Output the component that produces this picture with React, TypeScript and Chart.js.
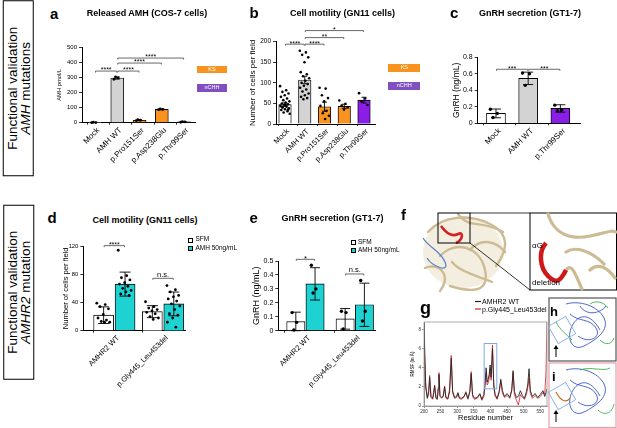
import React, { useEffect, useRef } from "react";
import { Chart, registerables } from "chart.js";

Chart.register(...registerables);

const FONT = "'Liberation Sans', Arial, Helvetica, sans-serif";

// ---------------- DATA ----------------
// Panel a: Released AMH (COS-7 cells)
const aLabels = ["Mock", "AMH WT", "p.Pro151Ser", "p.Asp238Glu", "p.Thr99Ser"];
const aMeans = [2, 295, 16, 88, 5];
const aSem = [1, 7, 3, 3, 2];
const aPoints = [[0, 1, 3], [287, 296, 303], [14, 17, 20], [86, 88, 91], [3, 5, 7]];
const aBrackets = [
  { i: 0, j: 1, y: 341, label: "****" },
  { i: 1, j: 2, y: 341, label: "****" },
  { i: 1, j: 3, y: 394, label: "****" },
  { i: 1, j: 4, y: 427, label: "****" },
];

// Panel b: Cell motility (GN11 cells)
const bLabels = ["Mock", "AMH WT", "p.Pro151Ser", "p.Asp238Glu", "p.Thr99Ser"];
const bMeans = [47, 107, 42, 43, 58];
const bSem = [4, 9, 11, 5, 7];
const bPoints = [
  [92, 82, 78, 74, 70, 66, 62, 58, 55, 52, 50, 48, 46, 44, 42, 40, 38, 36, 34, 31, 28, 25, 45, 41, 35],
  [178, 174, 168, 162, 150, 126, 121, 116, 111, 105, 100, 97, 93, 88, 84, 79, 74, 70, 66, 63, 60],
  [88, 86, 70, 63, 55, 44, 32, 26, 20, 12],
  [57, 49, 45, 40, 35],
  [75, 62, 55, 46],
];
const bBrackets = [
  { i: 0, j: 1, y: 194, label: "****" },
  { i: 1, j: 2, y: 194, label: "****" },
  { i: 1, j: 3, y: 210, label: "**" },
  { i: 1, j: 4, y: 227, label: "*" },
];

// Panel c: GnRH secretion (GT1-7)
const cLabels = ["Mock", "AMH WT", "p.Thr99Ser"];
const cMeans = [0.12, 0.545, 0.18];
const cSd = [0.053, 0.075, 0.045];
const cPoints = [[0.17, 0.12, 0.07], [0.61, 0.6, 0.46], [0.22, 0.16, 0.15]];
const cBrackets = [
  { i: 0, j: 1, y: 0.655, label: "***" },
  { i: 1, j: 2, y: 0.655, label: "***" },
];

// Panel d: Cell motility (GN11 cells), AMHR2
const dGroups = ["AMHR2 WT", "p.Gly445_Leu453del"];
const dSfmMeans = [22, 27];
const dSfmSd = [11.8, 8.5];
const dAmhMeans = [66, 38];
const dAmhSd = [17, 16.8];
const dSfmPoints = [
  [39, 37, 34, 31, 23, 18, 15, 13, 12, 12],
  [41, 34, 32, 30, 28, 26, 24, 20, 18, 16],
];
const dAmhPoints = [
  [114, 78, 75, 72, 68, 66, 63, 60, 57, 55, 52, 50],
  [64, 58, 55, 50, 48, 45, 42, 38, 35, 30, 24, 22, 18, 12, 5],
];
const dBrackets = [
  { i: 0, j: 1, y: 120.5, label: "****" },
  { i: 2, j: 3, y: 74.2, label: "n.s." },
];

// Panel e: GnRH secretion (GT1-7), AMHR2
const eGroups = ["AMHR2 WT", "p.Gly445_Leu453del"];
const eSfmMeans = [0.065, 0.085];
const eSfmSd = [0.068, 0.074];
const eAmhMeans = [0.336, 0.186];
const eAmhSd = [0.116, 0.155];
const eSfmPoints = [[0.13, 0.06, 0.005], [0.14, 0.13, 0.012]];
const eAmhPoints = [[0.47, 0.3, 0.27], [0.36, 0.14, 0.07]];
const eBrackets = [
  { i: 0, j: 1, y: 0.512, label: "*" },
  { i: 2, j: 3, y: 0.407, label: "n.s." },
];

// Panel g: RMSF per residue
const gResidues = [200, 205, 210, 214, 217, 221, 226, 229, 232, 236, 240, 243, 245, 248, 253, 258, 262, 266, 272, 277, 282, 286, 292, 298, 302, 306, 312, 320, 326, 332, 338, 342, 346, 352, 360, 368, 374, 380, 384, 387, 390, 393, 396, 399, 402, 406, 410, 414, 420, 426, 431, 436, 442, 450, 458, 464, 468, 472, 478, 484, 490, 496, 502, 508, 512, 516, 520, 526, 534, 542, 550, 558, 563, 567, 570];
const gWt = [8.8, 2.0, 0.8, 1.5, 3.0, 1.0, 0.8, 1.4, 2.1, 0.8, 0.7, 1.8, 3.3, 1.1, 0.9, 1.0, 2.0, 0.9, 0.8, 1.5, 5.0, 1.6, 0.9, 1.0, 1.4, 0.9, 0.8, 1.0, 1.4, 0.8, 1.5, 3.4, 1.2, 0.8, 0.9, 1.3, 0.7, 1.2, 2.6, 4.0, 2.5, 2.8, 3.3, 4.3, 3.0, 6.0, 2.2, 1.2, 0.8, 1.5, 2.8, 1.6, 1.0, 1.3, 0.9, 1.6, 3.7, 1.5, 0.9, 1.0, 1.6, 1.1, 0.8, 1.5, 2.2, 3.9, 1.6, 1.0, 1.3, 0.9, 1.2, 1.6, 1.0, 1.4, 1.8];
const gMut = [6.8, 2.4, 0.9, 1.2, 3.2, 0.9, 0.7, 1.2, 2.2, 0.9, 0.8, 2.0, 3.5, 1.0, 0.8, 1.1, 2.1, 0.8, 0.7, 1.8, 5.3, 1.4, 0.8, 0.9, 1.3, 0.8, 0.7, 0.9, 1.5, 0.7, 1.6, 3.6, 1.0, 0.7, 0.8, 1.2, 0.6, 1.0, 2.2, 3.5, 2.2, 2.4, 2.9, 3.9, 2.7, 6.4, 2.0, 1.0, 0.7, 1.4, 2.6, 1.3, 0.9, 1.1, 0.8, 1.8, 3.5, 1.2, 0.6, 0.1, 1.2, 0.9, 0.7, 1.2, 1.9, 2.9, 1.3, 0.8, 1.1, 0.8, 1.0, 1.4, 1.2, 3.5, 8.8];
const gHighlight = { x1: 381, x2: 419, y1: 1.8, y2: 6.55 };

// ---------------- STYLES ----------------
const ORANGE = "#F7931E";
const GRAY = "#D3D3D3";
const PURPLE = "#8A1EE6";
const CYAN = "#1ED2D2";
const WHITE = "#FFFFFF";

const jit = (i: number) => ((i * 0.618034) % 1) - 0.5;

type Bar = { x: number; mean: number; lo: number; hi: number; color: string; pts: number[] };

function barPanel(p: any) {
  const bars: Bar[] = p.bars;
  const pts: any[] = [];
  bars.forEach((b) => {
    b.pts.forEach((v, k) => pts.push({ x: b.x + (b.pts.length > 1 ? jit(k) * p.jitter : 0), y: v }));
  });
  const deco = {
    id: "deco",
    afterDatasetDraw(chart: any, args: any) {
      if (args.index !== 0) return;
      const ctx = chart.ctx;
      const xs = chart.scales.x;
      const ys = chart.scales.y;
      ctx.save();
      ctx.strokeStyle = "#000";
      ctx.lineWidth = 0.9;
      for (const b of bars) {
        const px = xs.getPixelForValue(b.x);
        const t = ys.getPixelForValue(b.hi);
        const bt = ys.getPixelForValue(b.lo);
        ctx.beginPath();
        ctx.moveTo(px, t);
        ctx.lineTo(px, bt);
        ctx.moveTo(px - p.capPx / 2, t);
        ctx.lineTo(px + p.capPx / 2, t);
        ctx.moveTo(px - p.capPx / 2, bt);
        ctx.lineTo(px + p.capPx / 2, bt);
        ctx.stroke();
      }
      ctx.restore();
    },
    afterDraw(chart: any) {
      const ctx = chart.ctx;
      const xs = chart.scales.x;
      const ys = chart.scales.y;
      ctx.save();
      for (const br of p.brackets) {
        const x1 = xs.getPixelForValue(bars[br.i].x) + 0.5;
        const x2 = xs.getPixelForValue(bars[br.j].x) - 0.5;
        const y = ys.getPixelForValue(br.y);
        ctx.strokeStyle = "#444";
        ctx.lineWidth = 0.8;
        ctx.beginPath();
        ctx.moveTo(x1, y + 1.5);
        ctx.lineTo(x1, y);
        ctx.lineTo(x2, y);
        ctx.lineTo(x2, y + 1.5);
        ctx.stroke();
        const star = br.label.indexOf("*") >= 0;
        const fs = star ? p.starSize : p.nsSize;
        ctx.fillStyle = "#000";
        ctx.font = `${fs}px ${FONT}`;
        ctx.textAlign = "center";
        ctx.textBaseline = "alphabetic";
        ctx.fillText(br.label, (x1 + x2) / 2, star ? y + fs * 0.2 : y - 1.5);
      }
      ctx.restore();
    },
  };
  return {
    type: "bar",
    data: {
      datasets: [
        {
          type: "bar",
          data: bars.map((b) => ({ x: b.x, y: b.mean })),
          backgroundColor: bars.map((b) => b.color),
          borderColor: "#000",
          borderWidth: 0.9,
          barThickness: p.barPx,
          grouped: false,
          order: 2,
        },
        {
          type: "scatter",
          data: pts,
          pointRadius: p.ptR,
          pointBackgroundColor: "#000",
          pointBorderWidth: 0,
          clip: false,
          order: 1,
        },
      ],
    },
    options: {
      animation: false,
      responsive: false,
      maintainAspectRatio: false,
      events: [],
      layout: { padding: { left: 0, top: p.padTop, right: p.padRight, bottom: 0 } },
      plugins: { legend: { display: false }, tooltip: { enabled: false }, title: { display: false } },
      scales: {
        x: {
          type: "linear",
          min: p.xMin,
          max: p.xMax,
          offset: false,
          afterBuildTicks: (s: any) => {
            s.ticks = p.tickVals.map((v: number) => ({ value: v }));
          },
          ticks: {
            autoSkip: false,
            minRotation: 45,
            maxRotation: 45,
            padding: 1,
            color: "#000",
            font: { family: FONT, size: p.xTickSize },
            callback: (_v: any, i: number) => p.tickLabels[i],
          },
          grid: { display: true, drawOnChartArea: false, drawTicks: true, tickLength: 2, color: "#000", lineWidth: 0.8 },
          border: { display: true, color: "#000", width: 1 },
          afterFit: (s: any) => {
            s.height = p.hx;
            s.paddingLeft = 0;
            s.paddingRight = 0;
          },
        },
        y: {
          type: "linear",
          min: 0,
          max: p.yMax,
          ticks: { stepSize: p.yStep, padding: 2, color: "#000", font: { family: FONT, size: p.yTickSize } },
          grid: { display: true, drawOnChartArea: false, drawTicks: true, tickLength: 3, color: "#000", lineWidth: 0.8 },
          border: { display: true, color: "#000", width: 1 },
          title: {
            display: true,
            text: p.yTitle,
            color: "#000",
            font: { family: FONT, size: p.yTitleSize },
            padding: { top: p.yTitlePad, bottom: 0 },
          },
          afterFit: (s: any) => {
            s.width = p.wy;
            s.paddingTop = 0;
            s.paddingBottom = 0;
          },
        },
      },
    },
    plugins: [deco],
  };
}

// ---- panel configs ----
const aColors = [WHITE, GRAY, ORANGE, ORANGE, PURPLE];
const bColors = [WHITE, GRAY, ORANGE, ORANGE, PURPLE];
const cColors = [WHITE, GRAY, PURPLE];

function configA() {
  const bars = aLabels.map((_, i) => ({
    x: i, mean: aMeans[i], lo: aMeans[i] - aSem[i], hi: aMeans[i] + aSem[i], color: aColors[i], pts: aPoints[i],
  }));
  return barPanel({
    bars, xMin: -0.584, xMax: 4.49, tickVals: aLabels.map((_, i) => i + 0.15), tickLabels: aLabels,
    yMax: 500, yStep: 100, barPx: 13, capPx: 5, ptR: 1.4, jitter: 0.3, brackets: aBrackets,
    yTitle: "AMH pmol/L", yTitleSize: 5.8, yTitlePad: 2, yTickSize: 6, xTickSize: 8,
    padTop: 17, padRight: 59, wy: 28, hx: 80.3, starSize: 7, nsSize: 7,
  });
}
function configB() {
  const bars = bLabels.map((_, i) => ({
    x: i, mean: bMeans[i], lo: bMeans[i] - bSem[i], hi: bMeans[i] + bSem[i], color: bColors[i], pts: bPoints[i],
  }));
  return barPanel({
    bars, xMin: -0.456, xMax: 4.557, tickVals: bLabels.map((_, i) => i + 0.15), tickLabels: bLabels,
    yMax: 200, yStep: 50, barPx: 12.5, capPx: 5, ptR: 1.3, jitter: 0.5, brackets: bBrackets,
    yTitle: "Number of cells per field", yTitleSize: 8, yTitlePad: 0, yTickSize: 6.5, xTickSize: 7.5,
    padTop: 21.7, padRight: 23, wy: 28, hx: 80, starSize: 7, nsSize: 7,
  });
}
function configC() {
  const bars = cLabels.map((_, i) => ({
    x: i, mean: cMeans[i], lo: cMeans[i] - cSd[i], hi: cMeans[i] + cSd[i], color: cColors[i], pts: cPoints[i],
  }));
  return barPanel({
    bars, xMin: -0.568, xMax: 2.61, tickVals: cLabels.map((_, i) => i + 0.12), tickLabels: cLabels,
    yMax: 0.8, yStep: 0.2, barPx: 19, capPx: 10, ptR: 1.7, jitter: 0.35, brackets: cBrackets,
    yTitle: "GnRH (ng/mL)", yTitleSize: 8.5, yTitlePad: 7, yTickSize: 7, xTickSize: 8,
    padTop: 17.3, padRight: 37, wy: 32.7, hx: 69.7, starSize: 7, nsSize: 7,
  });
}
function groupedBars(groups: string[], sm: number[], ss: number[], am: number[], as: number[], sp: number[][], ap: number[][], off: number, clip0: boolean) {
  const bars: Bar[] = [];
  groups.forEach((_, g) => {
    bars.push({ x: g + 1 - off, mean: sm[g], lo: clip0 ? Math.max(0, sm[g] - ss[g]) : sm[g] - ss[g], hi: sm[g] + ss[g], color: WHITE, pts: sp[g] });
    bars.push({ x: g + 1 + off, mean: am[g], lo: clip0 ? Math.max(0, am[g] - as[g]) : am[g] - as[g], hi: am[g] + as[g], color: CYAN, pts: ap[g] });
  });
  return bars;
}
function configD() {
  const bars = groupedBars(dGroups, dSfmMeans, dSfmSd, dAmhMeans, dAmhSd, dSfmPoints, dAmhPoints, 0.22, true);
  return barPanel({
    bars, xMin: 0.363, xMax: 2.45, tickVals: [1.08, 2.08], tickLabels: dGroups,
    yMax: 120, yStep: 40, barPx: 20, capPx: 11, ptR: 1.4, jitter: 0.28, brackets: dBrackets,
    yTitle: "Number of cells per field", yTitleSize: 7.6, yTitlePad: 6, yTickSize: 5.8, xTickSize: 7.5,
    padTop: 14, padRight: 15, wy: 28.3, hx: 85.3, starSize: 7, nsSize: 7.5,
  });
}
function configE() {
  const bars = groupedBars(eGroups, eSfmMeans, eSfmSd, eAmhMeans, eAmhSd, eSfmPoints, eAmhPoints, 0.195, true);
  return barPanel({
    bars, xMin: 0.45, xMax: 2.41, tickVals: [1.08, 2.08], tickLabels: eGroups,
    yMax: 0.5, yStep: 0.1, barPx: 18.3, capPx: 10, ptR: 1.7, jitter: 0.15, brackets: eBrackets,
    yTitle: "GnRH (ng/mL)", yTitleSize: 9, yTitlePad: 6, yTickSize: 7, xTickSize: 7.5,
    padTop: 16, padRight: 15, wy: 33.3, hx: 85.3, starSize: 7.5, nsSize: 7.5,
  });
}
function configG() {
  const deco = {
    id: "gdeco",
    afterDraw(chart: any) {
      const { ctx, chartArea } = chart;
      const xs = chart.scales.x;
      const ys = chart.scales.y;
      ctx.save();
      ctx.strokeStyle = "#9a9a9a";
      ctx.lineWidth = 0.8;
      ctx.strokeRect(chartArea.left, chartArea.top, chartArea.right - chartArea.left, chartArea.bottom - chartArea.top);
      const x1 = xs.getPixelForValue(gHighlight.x1);
      const x2 = xs.getPixelForValue(gHighlight.x2);
      const y1 = ys.getPixelForValue(gHighlight.y2);
      const y2 = ys.getPixelForValue(gHighlight.y1);
      ctx.strokeStyle = "#7FA8E6";
      ctx.lineWidth = 1;
      ctx.strokeRect(x1, y1, x2 - x1, y2 - y1);
      ctx.restore();
    },
  };
  return {
    type: "line",
    data: {
      datasets: [
        { label: "AMHR2 WT", data: gResidues.map((r, i) => ({ x: r, y: gWt[i] })), borderColor: "#262626", borderWidth: 0.9, pointRadius: 0, tension: 0 },
        { label: "p.Gly445_Leu453del", data: gResidues.map((r, i) => ({ x: r, y: gMut[i] })), borderColor: "rgba(214,32,40,0.9)", borderWidth: 0.9, pointRadius: 0, tension: 0 },
      ],
    },
    options: {
      animation: false,
      responsive: false,
      maintainAspectRatio: false,
      events: [],
      layout: { padding: { left: 0, top: 10, right: 8, bottom: 0 } },
      plugins: { legend: { display: false }, tooltip: { enabled: false } },
      scales: {
        x: {
          type: "linear", min: 200, max: 570,
          ticks: { stepSize: 50, includeBounds: false, maxRotation: 0, minRotation: 0, padding: 1, color: "#333", font: { family: FONT, size: 4.5 } },
          grid: { display: true, drawOnChartArea: false, tickLength: 2, color: "#555", lineWidth: 0.6 },
          border: { display: true, color: "#777", width: 0.8 },
          title: { display: true, text: "Residue number", color: "#000", font: { family: FONT, size: 7.5 }, padding: { top: 0, bottom: 6 } },
          afterFit: (s: any) => { s.height = 22; s.paddingLeft = 0; s.paddingRight = 0; },
        },
        y: {
          type: "linear", min: 0, max: 8.8,
          ticks: { stepSize: 2, includeBounds: false, padding: 1, color: "#333", font: { family: FONT, size: 4.5 } },
          grid: { display: true, drawOnChartArea: false, tickLength: 2, color: "#555", lineWidth: 0.6 },
          border: { display: true, color: "#777", width: 0.8 },
          title: { display: true, text: "RMSF (in Å)", color: "#000", font: { family: FONT, size: 4.5 }, padding: { top: 5, bottom: 0 } },
          afterFit: (s: any) => { s.width = 19; s.paddingTop = 0; s.paddingBottom = 0; },
        },
      },
    },
    plugins: [deco],
  };
}

// ---------------- COMPONENTS ----------------
function ChartCanvas({ left, top, width, height, make }: any) {
  const ref = useRef<HTMLCanvasElement>(null);
  useEffect(() => {
    const chart = new Chart(ref.current as any, make());
    return () => chart.destroy();
  }, []);
  return <canvas ref={ref} width={width} height={height} style={{ position: "absolute", left, top, width, height }} />;
}

function Txt({ x, y, size, children, bold, italic, align, color }: any) {
  const style: any = {
    position: "absolute",
    top: y - size * 0.8465,
    left: x,
    fontSize: size,
    lineHeight: `${size}px`,
    whiteSpace: "nowrap",
    fontWeight: bold ? 700 : 400,
    fontStyle: italic ? "italic" : "normal",
    color: color || "#000",
  };
  if (align === "center") style.transform = "translateX(-50%)";
  return <div style={style}>{children}</div>;
}

function SideBox({ cx, cy, len, children }: any) {
  return (
    <div
      style={{
        position: "absolute", left: cx - len / 2, top: cy - 15.25, width: len, height: 30.5,
        boxSizing: "border-box", border: "1px solid #000", transform: "rotate(-90deg)",
        display: "flex", flexDirection: "column", justifyContent: "center", alignItems: "center",
        fontSize: 13.5, lineHeight: "13.3px", paddingTop: 2, whiteSpace: "nowrap",
      }}
    >
      <div>Functional validation</div>
      <div>{children}</div>
    </div>
  );
}

function Tag({ x, y, w, h, color, text }: any) {
  return (
    <div style={{ position: "absolute", left: x, top: y, width: w, height: h, background: color, color: "#fff", fontSize: 5.5, lineHeight: `${h}px`, textAlign: "center" }}>{text}</div>
  );
}

function Swatch({ x, y, color }: any) {
  return <div style={{ position: "absolute", left: x, top: y, width: 5, height: 5, boxSizing: "border-box", border: "0.8px solid #000", background: color }} />;
}

function Decor() {
  const beige = "#CDBB94";
  return (
    <svg width={617} height={428} style={{ position: "absolute", left: 0, top: 0 }}>
      {/* panel f structure */}
      <ellipse cx={463} cy={252} rx={40} ry={36} fill="#F4EEE1" />
      <g fill="none" stroke={beige} strokeWidth={2.4} strokeLinecap="round">
        <path d="M428 232 C 443 215, 470 214, 490 224 S 508 250, 496 266" />
        <path d="M440 256 C 455 240, 480 246, 485 270 S 470 292, 450 286" />
        <path d="M458 214 C 470 230, 482 219, 503 232" />
        <path d="M425 268 C 440 262, 452 276, 440 291" />
        <path d="M470 250 C 480 238, 495 240, 505 252" />
        <path d="M452 262 C 460 272, 478 276, 492 282" />
      </g>
      <path d="M441 226 C 446 233, 452 237, 458 234 S 463 240, 456 243" fill="none" stroke="#D42020" strokeWidth={2.6} />
      <path d="M423 238 C 429 248, 440 250, 445 262 S 432 266, 427 258" fill="none" stroke="#5A82C8" strokeWidth={1.3} />
      <rect x={438} y={213} width={32} height={30} fill="none" stroke="#000" strokeWidth={1} />
      <line x1={470} y1={213} x2={530} y2={213} stroke="#000" strokeWidth={0.8} />
      <line x1={470} y1={243} x2={530} y2={290} stroke="#000" strokeWidth={0.8} />
      <rect x={530} y={213} width={86.5} height={77} fill="#fff" stroke="#000" strokeWidth={1} />
      <g fill="none" stroke={beige} strokeWidth={3.2} strokeLinecap="round">
        <path d="M548 214 C 554 234, 570 240, 590 236 S 610 230, 616 232" />
        <path d="M566 252 C 575 246, 590 250, 604 264" />
        <path d="M566 270 C 572 262, 576 276, 582 289" />
        <path d="M590 270 C 598 262, 608 268, 615 278" />
      </g>
      <path d="M546 243 C 538 252, 540 268, 548 276 S 560 282, 566 270" fill="none" stroke="#D01818" strokeWidth={4.5} />
      {/* panel h */}
      <rect x={549} y={298} width={67} height={63} fill="#fff" stroke="#555" strokeWidth={1.2} />
      <g fill="none" stroke="#3A55C8" strokeWidth={0.9}>
        <path d="M566 304 C 580 300, 598 306, 604 318 S 596 340, 584 346 S 566 338, 572 326 S 590 312, 600 330" />
        <path d="M570 314 C 578 322, 590 318, 596 328 S 588 344, 578 336" />
        <path d="M580 306 C 586 316, 600 314, 606 306" />
      </g>
      <g fill="none" stroke="#3DB04A" strokeWidth={0.9}>
        <path d="M556 322 C 560 330, 566 334, 572 340" />
        <path d="M600 340 C 606 346, 612 344, 614 338" />
        <path d="M590 304 C 596 300, 604 302, 608 308" />
      </g>
      <rect x={552} y={320} width={20} height={20} fill="none" stroke="#8AB4E8" strokeWidth={0.9} transform="rotate(-30 562 330)" />
      <line x1={556} y1={357} x2={556} y2={347} stroke="#000" strokeWidth={1} />
      <path d="M553.5 349 L556 345 L558.5 349 Z" fill="#000" />
      {/* panel i */}
      <rect x={549} y={363} width={67} height={64.5} fill="#fff" stroke="#E3A0A8" strokeWidth={1.2} />
      <g fill="none" stroke="#3A55C8" strokeWidth={0.9}>
        <path d="M566 370 C 580 366, 598 372, 604 384 S 596 406, 584 412 S 566 404, 572 392 S 590 378, 600 396" />
        <path d="M570 380 C 578 388, 590 384, 596 394 S 588 410, 578 402" />
      </g>
      <g fill="none" stroke="#3DB04A" strokeWidth={0.9}>
        <path d="M580 370 C 590 366, 604 372, 610 368" />
        <path d="M598 410 C 604 416, 612 414, 614 404" />
      </g>
      <path d="M556 392 C 560 400, 566 404, 570 398" fill="none" stroke="#C07020" strokeWidth={1.2} />
      <rect x={552} y={386} width={20} height={20} fill="none" stroke="#8AB4E8" strokeWidth={0.9} transform="rotate(-30 562 396)" />
      <line x1={556} y1={422} x2={556} y2={412} stroke="#000" strokeWidth={1} />
      <path d="M553.5 414 L556 410 L558.5 414 Z" fill="#000" />
      {/* panel g legend lines */}
      <line x1={475} y1={301.5} x2={481} y2={301.5} stroke="#222" strokeWidth={1.2} />
      <line x1={475} y1={309} x2={481} y2={309} stroke="#D62028" strokeWidth={1.2} />
    </svg>
  );
}

export default function App() {
  return (
    <div style={{ position: "fixed", left: 0, top: 0, width: 617, height: 428, background: "#fff", overflow: "hidden", fontFamily: FONT, color: "#000" }}>
      <SideBox cx={18} cy={88} len={176}>
        <span><i>AMH</i> mutations</span>
      </SideBox>
      <SideBox cx={18} cy={292.5} len={175}>
        <span><i>AMHR2</i> mutation</span>
      </SideBox>

      <Decor />

      <ChartCanvas left={54} top={30} width={200} height={173} make={configA} />
      <ChartCanvas left={248} top={20} width={150} height={184} make={configB} />
      <ChartCanvas left={445} top={40} width={172} height={153} make={configC} />
      <ChartCanvas left={55} top={232} width={145} height={184} make={configD} />
      <ChartCanvas left={245} top={245} width={145} height={171} make={configE} />
      <ChartCanvas left={405} top={312} width={150} height={116} make={configG} />

      {/* panel letters */}
      <Txt x={50} y={18.3} size={15} bold>a</Txt>
      <Txt x={249.5} y={17.3} size={15} bold>b</Txt>
      <Txt x={450} y={17.3} size={15} bold>c</Txt>
      <Txt x={47.5} y={222.7} size={15} bold>d</Txt>
      <Txt x={249.5} y={222.7} size={15} bold>e</Txt>
      <Txt x={401} y={220} size={15} bold>f</Txt>
      <Txt x={420} y={314} size={18} bold>g</Txt>
      <Txt x={550} y={316} size={13} bold>h</Txt>
      <Txt x={552} y={381} size={13} bold>i</Txt>

      {/* titles */}
      <Txt x={147} y={16.7} size={9} bold align="center">Released AMH (COS-7 cells)</Txt>
      <Txt x={342.5} y={17} size={9} bold align="center">Cell motility (GN11 cells)</Txt>
      <Txt x={530} y={16.7} size={9} bold align="center">GnRH secretion (GT1-7)</Txt>
      <Txt x={145} y={223.3} size={9} bold align="center">Cell motility (GN11 cells)</Txt>
      <Txt x={332.5} y={221.7} size={9} bold align="center">GnRH secretion (GT1-7)</Txt>

      {/* KS / nCHH tags */}
      <Tag x={196.7} y={66} w={30.6} h={7.3} color={ORANGE} text="KS" />
      <Tag x={196.7} y={84.3} w={30.6} h={7.4} color="#8050C0" text="nCHH" />
      <Tag x={388.3} y={64} w={32} h={7.7} color={ORANGE} text="KS" />
      <Tag x={388.3} y={82.3} w={32} h={7.7} color="#8050C0" text="nCHH" />

      {/* d / e legends */}
      <Swatch x={188.3} y={237.5} color={WHITE} />
      <Txt x={195.5} y={242} size={6.5}>SFM</Txt>
      <Swatch x={188.3} y={246} color={CYAN} />
      <Txt x={195.5} y={250.5} size={6.5}>AMH 50ng/mL</Txt>
      <Swatch x={350.7} y={239.7} color={WHITE} />
      <Txt x={358} y={244.5} size={6.5}>SFM</Txt>
      <Swatch x={350.7} y={247.5} color={CYAN} />
      <Txt x={358} y={252.3} size={6.5}>AMH 50ng/mL</Txt>

      {/* f labels */}
      <Txt x={532} y={249} size={8}>αG</Txt>
      <Txt x={532} y={286} size={8}>deletion</Txt>

      {/* g legend */}
      <Txt x={482} y={304} size={7}>AMHR2 WT</Txt>
      <Txt x={482} y={311.5} size={7}>p.Gly445_Leu453del</Txt>
    </div>
  );
}
